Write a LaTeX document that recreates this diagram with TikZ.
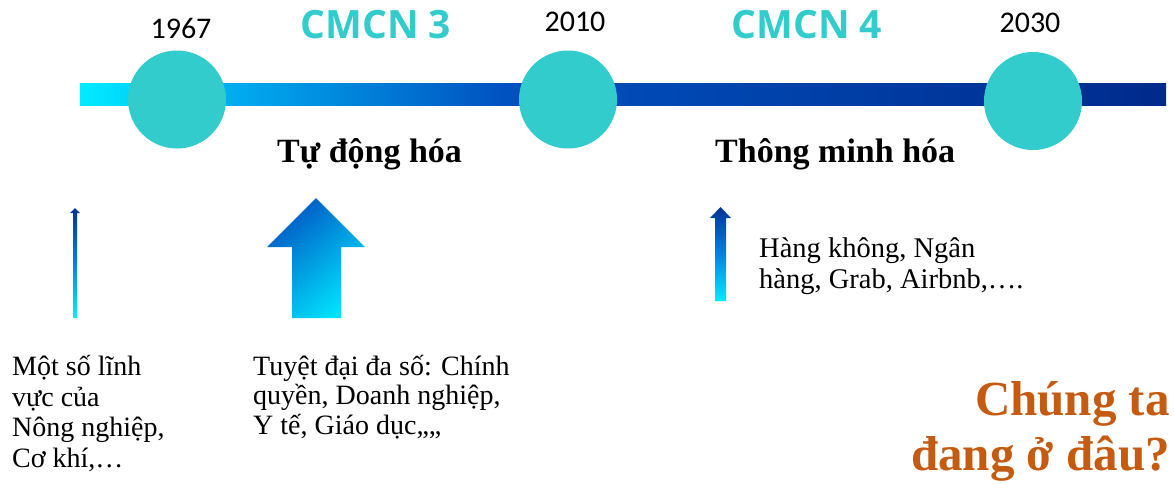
\documentclass[tikz,border=0pt]{standalone}
\usepackage{fontspec}
\setmainfont{Liberation Serif}
\newfontfamily\yearfont{Carlito}
\newfontfamily\headfont{Open Sans}
\definecolor{tealc}{RGB}{51,204,204}
\definecolor{orng}{RGB}{197,90,17}
\definecolor{cyn}{RGB}{0,236,255}
\definecolor{bluea}{RGB}{0,172,240}
\definecolor{blueb}{RGB}{0,82,192}
\definecolor{navyc}{RGB}{0,42,140}
\definecolor{arrtop}{RGB}{0,52,150}
\definecolor{arrmid}{RGB}{0,130,230}
\definecolor{bigtop}{RGB}{0,88,196}
\definecolor{bigbot}{RGB}{0,226,252}
\pgfdeclarehorizontalshading{barshade}{100bp}{color(0bp)=(cyn); color(25bp)=(cyn); color(32bp)=(bluea); color(44.5bp)=(blueb); color(75bp)=(navyc); color(100bp)=(navyc)}
\tikzset{
  milestone/.style={circle, fill=tealc, draw=none, minimum size=98pt, inner sep=0pt},
  year/.style={font=\yearfont\fontsize{30}{30}\selectfont, inner sep=0pt, anchor=base},
  era/.style={font=\headfont\bfseries\fontsize{39}{39}\selectfont, text=tealc, inner sep=0pt, anchor=base},
  phase/.style={font=\bfseries\fontsize{34}{34}\selectfont, inner sep=0pt, anchor=base west},
  body/.style={font=\fontsize{28}{30.5}\selectfont, align=left, inner sep=0pt, anchor=base west},
  thinarrow/.style={top color=arrtop, bottom color=cyn, middle color=arrmid},
  bigarrow/.style={top color=bigtop, bottom color=bigbot, shading angle=40},
  question/.style={font=\bfseries\fontsize{49}{55}\selectfont, text=orng, align=right, inner sep=0pt, anchor=base east}
}
\begin{document}
\begin{tikzpicture}[x=1pt,y=-1pt]
\useasboundingbox (0,0) rectangle (1174,483);
\fill[white] (0,0) rectangle (1174,483);
% timeline bar
\shade[shading=barshade] (80,83) rectangle (1166,105);
% milestones
\node[milestone] (m1) at (177,99.5) {};
\node[milestone] (m2) at (568,99.5) {};
\node[milestone] (m3) at (1033,101) {};
% years
\node[year] (y1) at (181,38) {1967};
\node[year] (y2) at (575,31) {2010};
\node[year] (y3) at (1030,32) {2030};
% eras
\node[era] (e3) at (376,38) {CMCN 3};
\node[era] (e4) at (807,38) {CMCN 4};
% phases
\node[phase] (p3) at (277,162) {Tự động hóa};
\node[phase] (p4) at (715,162) {Thông minh hóa};
% arrows
\shade[thinarrow] (73,318) -- (73,213) -- (70,213) -- (75,208) -- (80,213) -- (77,213) -- (77,318) -- cycle;
\shade[bigarrow] (292,318) -- (292,247) -- (267,247) -- (316,198) -- (365,247) -- (341,247) -- (341,318) -- cycle;
\shade[thinarrow] (715,301) -- (715,218) -- (710,218) -- (720.5,207) -- (731,218) -- (726,218) -- (726,301) -- cycle;
% texts (base anchor = baseline of the last line)
\node[body] (t1) at (12,467) {Một số lĩnh\\vực của\\Nông nghiệp,\\Cơ khí,…};
\node[body, font=\fontsize{28}{29.5}\selectfont] (t2) at (253,434) {Tuyệt đại đa số: Chính\\quyền, Doanh nghiệp,\\Y tế, Giáo dục,,,,};
\node[body, font=\fontsize{28.5}{31}\selectfont] (t3) at (759,288) {Hàng không, Ngân\\hàng, Grab, Airbnb,….};
\node[question] (q) at (1170,470) {Chúng ta\\đang ở đâu?};
\end{tikzpicture}
\end{document}
